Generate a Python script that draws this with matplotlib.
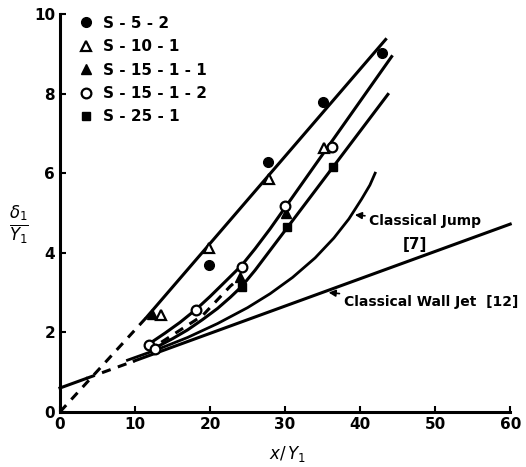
import matplotlib.pyplot as plt

# measured points, one list pair per run
s52_x = [19.9, 27.7, 35.0, 42.9]
s52_y = [3.70, 6.28, 7.79, 9.01]
s101_x = [13.4, 19.9, 27.8, 35.2]
s101_y = [2.44, 4.12, 5.85, 6.63]
s1511_x = [12.3, 24.0, 30.1]
s1511_y = [2.47, 3.40, 4.99]
s1512_x = [11.8, 12.6, 18.1, 24.2, 30.0, 36.2]
s1512_y = [1.69, 1.59, 2.57, 3.65, 5.17, 6.65]
s251_x = [24.2, 30.2, 36.4]
s251_y = [3.15, 4.64, 6.15]

# fitted curves
lineA_dash_x = [0, 11.5]
lineA_dash_y = [0, 2.37]
lineA_x = [11.5, 43.4]
lineA_y = [2.37, 9.36]
lineB_x = [11.8, 14.0, 16.0, 18.1, 20.0, 22.0, 24.2, 26.0, 28.0, 44.2]
lineB_y = [1.70, 1.98, 2.25, 2.57, 2.90, 3.27, 3.68, 4.10, 4.60, 8.93]
lineC_x = [12.6, 15.0, 17.0, 19.0, 21.0, 22.7, 24.2, 26.0, 43.7]
lineC_y = [1.60, 1.84, 2.06, 2.32, 2.60, 2.88, 3.15, 3.56, 7.98]
lineD_x = [13.5, 19.0, 22.7, 24.2]
lineD_y = [1.75, 2.42, 3.16, 3.40]

# classical jump [7]
jump_x = [9.0, 13.0, 17.0, 21.0, 25.0, 28.0, 31.0, 34.0, 36.5, 38.5, 40.2, 41.3, 42.0]
jump_y = [1.30, 1.57, 1.87, 2.22, 2.62, 2.97, 3.38, 3.87, 4.37, 4.85, 5.35, 5.70, 6.00]

# classical wall jet [12]
wj_x = [0, 3.5, 9.9, 60]
wj_y = [0.60, 0.84, 1.28, 4.72]

fig = plt.figure(figsize=(5.26, 4.67), dpi=100)
ax = fig.add_axes([0.114, 0.118, 0.856, 0.852])

lw = 2.2
ax.plot(lineA_dash_x, lineA_dash_y, 'k--', lw=lw, dashes=(3, 2.5), clip_on=False)
ax.plot(lineA_x, lineA_y, 'k-', lw=lw, clip_on=False)
ax.plot(lineB_x, lineB_y, 'k-', lw=lw, clip_on=False)
ax.plot(lineC_x, lineC_y, 'k-', lw=lw, clip_on=False)
ax.plot(lineD_x, lineD_y, 'k--', lw=lw, dashes=(3, 2.5), clip_on=False)
ax.plot(jump_x, jump_y, 'k-', lw=2.0, clip_on=False)
ax.plot(wj_x[:2], wj_y[:2], 'k-', lw=lw, clip_on=False)
ax.plot(wj_x[1:3], wj_y[1:3], 'k--', lw=lw, dashes=(3, 2.5), clip_on=False)
ax.plot(wj_x[2:], wj_y[2:], 'k-', lw=lw, clip_on=False)

ms = 7
ax.plot(s52_x, s52_y, 'o', color='k', ms=ms, label='S - 5 - 2', clip_on=False)
ax.plot(s101_x, s101_y, '^', mfc='white', mec='k', mew=1.6, ms=ms, label='S - 10 - 1', clip_on=False)
ax.plot(s1511_x, s1511_y, '^', color='k', ms=ms, label='S - 15 - 1 - 1', clip_on=False)
ax.plot(s1512_x, s1512_y, 'o', mfc='white', mec='k', mew=1.6, ms=ms, label='S - 15 - 1 - 2', clip_on=False)
ax.plot(s251_x, s251_y, 's', color='k', ms=ms - 1, label='S - 25 - 1', clip_on=False)

ax.annotate('Classical Jump', xy=(39.3, 4.95), xytext=(41.2, 4.8),
            fontsize=10, fontweight='bold', va='center', ha='left',
            arrowprops=dict(arrowstyle='-|>', color='k', lw=1.2, shrinkA=1, shrinkB=0))
ax.text(47.3, 4.2, '[7]', fontsize=11, fontweight='bold', ha='center', va='center')
ax.annotate('Classical Wall Jet  [12]', xy=(35.8, 3.0), xytext=(37.8, 2.75),
            fontsize=10, fontweight='bold', va='center', ha='left',
            arrowprops=dict(arrowstyle='-|>', color='k', lw=1.2, shrinkA=1, shrinkB=0))

ax.set_xlim(0, 60)
ax.set_ylim(0, 10)
ax.set_xticks([0, 10, 20, 30, 40, 50, 60])
ax.set_yticks([0, 2, 4, 6, 8, 10])
ax.tick_params(direction='in', length=4, width=1.5, labelsize=11)
for lab in ax.get_xticklabels() + ax.get_yticklabels():
    lab.set_fontweight('bold')
ax.spines['top'].set_visible(False)
ax.spines['right'].set_visible(False)
ax.spines['left'].set_linewidth(2.2)
ax.spines['bottom'].set_linewidth(2.2)

ax.text(-0.09, 0.47, r'$\frac{\delta_1}{Y_1}$', fontsize=17, transform=ax.transAxes,
        ha='center', va='center')
ax.text(0.505, -0.105, r'$x/\,Y_1$', fontsize=12, transform=ax.transAxes,
        ha='center', va='center')

leg = ax.legend(loc='upper left', bbox_to_anchor=(0.01, 1.03), frameon=False,
                handlelength=1.0, handletextpad=0.6, labelspacing=0.55,
                prop={'weight': 'bold', 'size': 11})

fig.savefig('out.png', dpi=100)
